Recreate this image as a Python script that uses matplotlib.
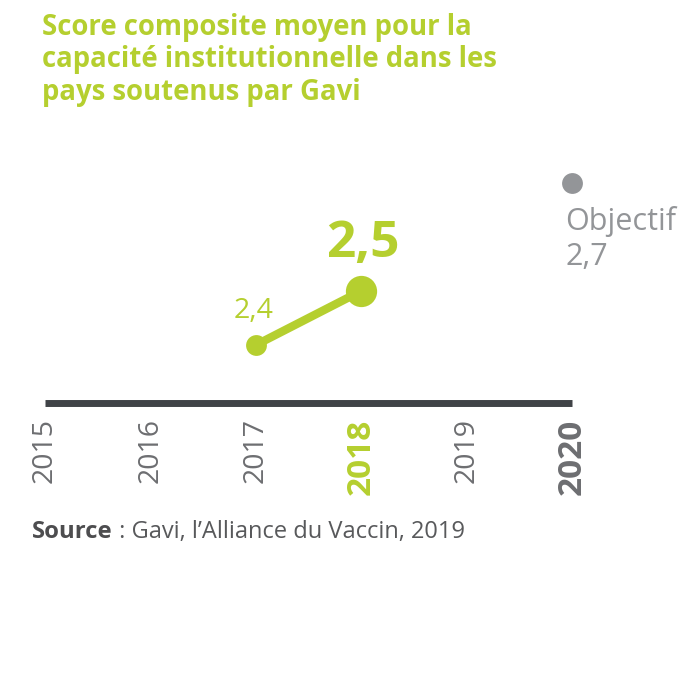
import numpy as np
import matplotlib
matplotlib.use("Agg")
import matplotlib.pyplot as plt

plt.rcParams['font.family'] = ['Open Sans', 'DejaVu Sans']

# data
years = [2015, 2016, 2017, 2018, 2019, 2020]
year_labels = ['2015', '2016', '2017', '2018', '2019', '2020']
line_years = [2017, 2018]
line_values = [2.4, 2.5]
value_labels = ['2,4', '2,5']
target_year = 2020
target_value = 2.7
target_label = 'Objectif'
target_text = '2,7'

title_lines = ['Score composite moyen pour la',
               'capacité institutionnelle dans les',
               'pays soutenus par Gavi']
source_bold = 'Source'
source_rest = ' : Gavi, l\u2019Alliance du Vaccin, 2019'

green = '#b5cf2f'
dark = '#404347'
gray = '#6d6e71'
lightgray = '#939598'

fig = plt.figure(figsize=(7, 7), dpi=100)
ax = fig.add_axes([0, 0, 1, 1])
ax.set_xlim(2014.573, 2021.214)
ax.set_ylim(1.7426, 3.0389)
base = 2.2926

for s in ['top', 'left', 'right']:
    ax.spines[s].set_visible(False)
ax.spines['bottom'].set_position(('data', base))
ax.spines['bottom'].set_bounds(years[0], years[-1])
ax.spines['bottom'].set_linewidth(5)
ax.spines['bottom'].set_color(dark)
ax.spines['bottom'].set_capstyle('butt')
ax.set_yticks([])
ax.set_xticks(years)
ax.set_xticklabels(year_labels, rotation=90, fontsize=20.5, color=gray)
ax.tick_params(axis='x', length=0, pad=11)
for lbl in ax.get_xticklabels():
    if lbl.get_text() == '2018':
        lbl.set_color(green)
        lbl.set_fontweight('bold')
        lbl.set_fontsize(24)
    if lbl.get_text() == '2020':
        lbl.set_fontweight('bold')
        lbl.set_fontsize(24)

# line and points
ax.plot(line_years, line_values, color=green, lw=6, solid_capstyle='round', zorder=3)
ax.plot(line_years[0], line_values[0], 'o', ms=15, color=green, mec='none', zorder=4)
ax.plot(line_years[1], line_values[1], 'o', ms=22.5, color=green, mec='none', zorder=4)
ax.plot(target_year, target_value, 'o', ms=15, color=lightgray, mec='none', zorder=4)

ax.annotate(value_labels[0], (line_years[0], line_values[0]), xytext=(-1.5, 19.5),
            textcoords='offset points', ha='center', va='baseline',
            fontsize=20.5, color=green)
ax.annotate(value_labels[1], (line_years[1], line_values[1]), xytext=(1, 24.5),
            textcoords='offset points', ha='center', va='baseline',
            fontsize=37, fontweight='bold', color=green)
ax.annotate(target_label, (target_year, target_value), xytext=(-5, -34),
            textcoords='offset points', ha='left', va='baseline',
            fontsize=22, color=lightgray)
ax.annotate(target_text, (target_year, target_value), xytext=(-5, -59),
            textcoords='offset points', ha='left', va='baseline',
            fontsize=22, color=lightgray)

# title
for i, t in enumerate(title_lines):
    fig.text(42 / 700, 1 - (35 + i * 32.5) / 700, t, ha='left', va='baseline',
             fontsize=19.8, fontweight='bold', color=green)

# source
t1 = fig.text(32 / 700, 1 - 538 / 700, source_bold, ha='left', va='baseline',
              fontsize=17.2, fontweight='bold', color='#4d4d4f')
fig.canvas.draw()
ax.annotate(source_rest, xy=(1, 0), xycoords=t1, ha='left', va='bottom',
            fontsize=17, color='#58595b')

fig.savefig('out.png', dpi=100)
